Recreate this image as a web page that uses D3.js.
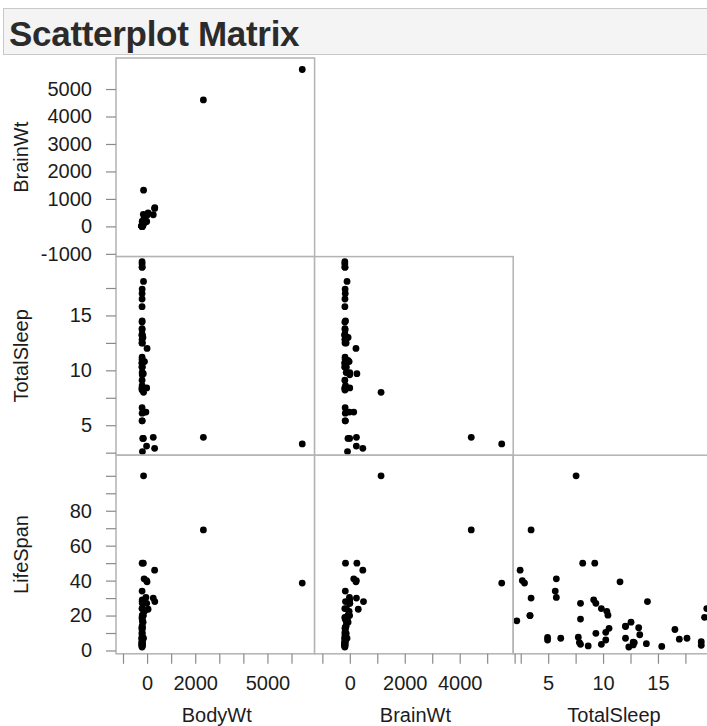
<!DOCTYPE html>
<html>
<head>
<meta charset="utf-8">
<script src="https://cdn.jsdelivr.net/npm/d3@7"></script>
<style>
body { margin: 0; background: #fff; }
text { font-family: "Liberation Sans", Arial, Helvetica, sans-serif; }
</style>
</head>
<body>
<div id="app"></div>
<script>
// mammals sleep data (NA = null)
const species = ["African elephant", "African giant pouched rat", "Arctic Fox", "Arctic ground squirrel",
  "Asian elephant", "Baboon", "Big brown bat", "Brazilian tapir", "Cat", "Chimpanzee", "Chinchilla", "Cow",
  "Desert hedgehog", "Donkey", "Eastern American mole", "Echidna", "European hedgehog", "Galago", "Genet",
  "Giant armadillo", "Giraffe", "Goat", "Golden hamster", "Gorilla", "Gray seal", "Gray wolf",
  "Ground squirrel", "Guinea pig", "Horse", "Jaguar", "Kangaroo", "Lesser short-tailed shrew",
  "Little brown bat", "Man", "Mole rat", "Mountain beaver", "Mouse", "Musk shrew", "N. American opossum",
  "Nine-banded armadillo", "Okapi", "Owl monkey", "Patas monkey", "Phanlanger", "Pig", "Rabbit", "Raccoon",
  "Rat", "Red fox", "Rhesus monkey", "Rock hyrax (Hetero. b)", "Rock hyrax (Procavia hab)", "Roe deer",
  "Sheep", "Slow loris", "Star nosed mole", "Tenrec", "Tree hyrax", "Tree shrew", "Vervet",
  "Water opossum", "Yellow-bellied marmot"];
const bodyWt = [6654, 1, 3.385, 0.92, 2547, 10.55, 0.023, 160, 3.3, 52.16, 0.425, 465, 0.55, 187.1, 0.075,
  3, 0.785, 0.2, 1.41, 60, 529, 27.66, 0.12, 207, 85, 36.33, 0.101, 1.04, 521, 100, 35, 0.005, 0.01, 62,
  0.122, 1.35, 0.023, 0.048, 1.7, 3.5, 250, 0.48, 10, 1.62, 192, 2.5, 4.288, 0.28, 4.235, 6.8, 0.75, 3.6,
  14.83, 55.5, 1.4, 0.06, 0.9, 2, 0.104, 4.19, 3.5, 4];
const brainWt = [5712, 6.6, 44.5, 5.7, 4603, 179.5, 0.3, 169, 25.6, 440, 6.4, 423, 2.4, 419, 1.2, 25, 3.5,
  5, 17.5, 81, 680, 115, 1, 406, 325, 119.5, 4, 5.5, 655, 157, 56, 0.14, 0.25, 1320, 3, 8.1, 0.4, 0.33, 6.3,
  10.8, 490, 15.5, 115, 11.4, 180, 12.1, 39.2, 1.9, 50.4, 179, 12.3, 21, 98.2, 175, 12.5, 1, 2.6, 12.3, 2.5,
  58, 3.9, 17];
const totalSleep = [3.3, 8.3, 12.5, 16.5, 3.9, 9.8, 19.7, 6.2, 14.5, 9.7, 12.5, 3.9, 10.3, 3.1, 8.4, 8.6,
  10.7, 10.7, 6.1, 18.1, null, 3.8, 14.4, 12, 6.2, 13, 13.8, 8.2, 2.9, 10.8, null, 9.1, 19.9, 8, 10.6, 11.2,
  13.2, 12.8, 19.4, 17.4, null, 17, 10.9, 13.7, 8.4, 8.4, 12.5, 13.2, 9.8, 9.6, 6.6, 5.4, 2.6, 3.8, 11, 10.3,
  13.3, 5.4, 15.8, 10.3, 19.4, null];
const lifeSpan = [38.6, 4.5, 14, null, 69, 27, 19, 30.4, 28, 50, 7, 30, null, 40, 3.5, 50, 6, 10.4, 34, 7,
  28, 20, 3.9, 39.3, 41, 16.2, 9, 7.6, 46, 22.4, 16.3, 2.6, 24, 100, null, null, 3.2, 2, 5, 6.5, 23.6, 12,
  20.2, 13, 27, 18, 13.7, 4.7, 9.8, 29, 7, 6, 17, 20, 12.7, 3.5, 4.5, 7.5, 2.3, 24, 3, 13];

const rowVars = ["BrainWt", "TotalSleep", "LifeSpan"];
const colVars = ["BodyWt", "BrainWt", "TotalSleep"];

// tick marks and which of them carry a label
const bodyWtTicks = [-1000, 0, 1000, 2000, 3000, 4000, 5000, 6000];
const bodyWtLabels = [0, 2000, 5000];
const brainWtXTicks = [-1000, 0, 1000, 2000, 3000, 4000, 5000, 6000];
const brainWtXLabels = [0, 2000, 4000];
const brainWtYTicks = [-1000, 0, 1000, 2000, 3000, 4000, 5000];
const brainWtYLabels = [-1000, 0, 1000, 2000, 3000, 4000, 5000];
const sleepTicks = [2.5, 5, 7.5, 10, 12.5, 15, 17.5];
const sleepLabels = [5, 10, 15];
const lifeSpanTicks = [0, 10, 20, 30, 40, 50, 60, 70, 80, 90, 100];
const lifeSpanLabels = [0, 20, 40, 60, 80];

const values = {BodyWt: bodyWt, BrainWt: brainWt, TotalSleep: totalSleep, LifeSpan: lifeSpan};
const domains = {
  BodyWt: [-1083, 7167],
  BrainWt: [-1100, 6130],
  TotalSleep: [2.27, 20.36],
  LifeSpan: [-1.9, 111.8]
};
const xTicks = {
  BodyWt: [bodyWtTicks, bodyWtLabels],
  BrainWt: [brainWtXTicks, brainWtXLabels],
  TotalSleep: [sleepTicks, sleepLabels]
};
const yTicks = {
  BrainWt: [brainWtYTicks, brainWtYLabels],
  TotalSleep: [sleepTicks, sleepLabels],
  LifeSpan: [lifeSpanTicks, lifeSpanLabels]
};

const W = 707, H = 726;
const gridLeft = 116, gridTop = 58, cell = 198.6;
const axisShift = 5; // x axes sit a few pixels right of the plotted points

const svg = d3.select("#app")
    .append("svg")
    .attr("width", W)
    .attr("height", H);

// title bar
svg.append("rect")
    .attr("x", 3.5).attr("y", 8.5)
    .attr("width", 740).attr("height", 46)
    .attr("fill", "#f4f4f4")
    .attr("stroke", "#c9c9c9");
svg.append("text")
    .attr("x", 9).attr("y", 46)
    .attr("font-size", 35)
    .attr("font-weight", "bold")
    .attr("letter-spacing", -0.3)
    .attr("fill", "#2b2b2b")
    .text("Scatterplot Matrix");

const xScale = v => d3.scaleLinear().domain(domains[v]).range([0, cell]);
const yScale = v => d3.scaleLinear().domain(domains[v]).range([cell, 0]);

rowVars.forEach((rv, r) => {
  colVars.forEach((cv, c) => {
    if (c > r) return;
    const x = xScale(cv), y = yScale(rv);
    const g = svg.append("g")
        .attr("transform", `translate(${gridLeft + c * cell}, ${gridTop + r * cell})`);

    g.append("rect")
        .attr("width", cell).attr("height", cell)
        .attr("fill", "#fff");

    const pts = d3.range(species.length)
        .filter(i => values[cv][i] != null && values[rv][i] != null);

    g.append("g")
        .selectAll("circle")
        .data(pts)
        .join("circle")
        .attr("cx", i => x(values[cv][i]))
        .attr("cy", i => y(values[rv][i]))
        .attr("r", 3.4)
        .attr("fill", "#000")
        .append("title")
        .text(i => species[i]);

    g.append("rect")
        .attr("width", cell).attr("height", cell)
        .attr("fill", "none")
        .attr("stroke", "#b3b3b3")
        .attr("stroke-width", 1.5);
  });
});

function styleAxis(sel) {
  sel.select(".domain").remove();
  sel.selectAll(".tick line").attr("stroke", "#8a8a8a").attr("stroke-width", 1.2);
  sel.selectAll(".tick text")
      .attr("font-size", 20)
      .attr("font-family", "'Liberation Sans', Arial, sans-serif")
      .attr("fill", "#1c1c1c");
}

// left axes + titles
rowVars.forEach((rv, r) => {
  const [ticks, labels] = yTicks[rv];
  svg.append("g")
      .attr("transform", `translate(${gridLeft}, ${gridTop + r * cell})`)
      .call(d3.axisLeft(yScale(rv))
          .tickValues(ticks)
          .tickSize(10)
          .tickPadding(14)
          .tickFormat(d => labels.includes(d) ? String(d) : ""))
      .call(styleAxis);

  svg.append("text")
      .attr("transform", `translate(28, ${gridTop + r * cell + cell / 2}) rotate(-90)`)
      .attr("text-anchor", "middle")
      .attr("font-size", 20)
      .attr("fill", "#1c1c1c")
      .text(rv);
});

// bottom axes + titles
colVars.forEach((cv, c) => {
  const [ticks, labels] = xTicks[cv];
  svg.append("g")
      .attr("transform", `translate(${gridLeft + c * cell + axisShift}, ${gridTop + 3 * cell})`)
      .call(d3.axisBottom(xScale(cv))
          .tickValues(ticks)
          .tickSize(10)
          .tickPadding(12)
          .tickFormat(d => labels.includes(d) ? String(d) : ""))
      .call(styleAxis);

  svg.append("text")
      .attr("x", gridLeft + c * cell + cell / 2 + 1.5)
      .attr("y", 722)
      .attr("text-anchor", "middle")
      .attr("font-size", 20)
      .attr("fill", "#1c1c1c")
      .text(cv);
});
</script>
</body>
</html>
